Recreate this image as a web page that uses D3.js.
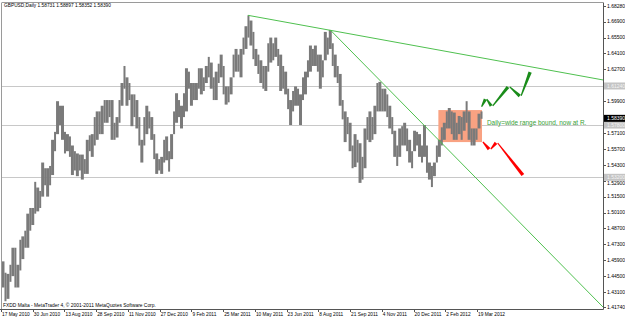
<!DOCTYPE html>
<html>
<head>
<meta charset="utf-8">
<script src="https://cdn.jsdelivr.net/npm/d3@7"></script>
<style>
  body { margin: 0; background: #fff; }
  svg { display: block; font-family: "Liberation Sans", Arial, sans-serif; }
</style>
</head>
<body>
<div id="chart"></div>
<script>
const title = "GBPUSD,Daily  1.58731 1.58897 1.58352 1.58390";
const footer = "FXDD Malta - MetaTrader 4, \u00A9 2001-2011 MetaQuotes Software Corp.";

// one row per week from 17 May 2010: [high Mon-Wed, low Mon-Wed, high Thu-Fri, low Thu-Fri]
const weekHalves = [
  [1.4580,1.4350,1.4480,1.4229],[1.4470,1.4250,1.4550,1.4400],[1.4700,1.4450,1.4700,1.4350],[1.4550,1.4350,1.4770,1.4500],
  [1.4800,1.4600,1.4850,1.4700],[1.5000,1.4700,1.5050,1.4850],[1.5050,1.4900,1.5280,1.5000],[1.5230,1.5020,1.5200,1.5050],
  [1.5450,1.5150,1.5400,1.5250],[1.5400,1.5150,1.5420,1.5250],[1.5650,1.5340,1.5720,1.5550],[1.5990,1.5700,1.5950,1.5780],
  [1.5950,1.5650,1.5720,1.5530],[1.5700,1.5550,1.5680,1.5500],[1.5600,1.5340,1.5550,1.5380],[1.5530,1.5330,1.5520,1.5380],
  [1.5520,1.5300,1.5480,1.5350],[1.5650,1.5350,1.5690,1.5550],[1.5700,1.5500,1.5850,1.5600],[1.5900,1.5650,1.5900,1.5700],
  [1.5950,1.5700,1.6000,1.5800],[1.6000,1.5800,1.6000,1.5850],[1.6000,1.5650,1.5800,1.5650],[1.5850,1.5670,1.6000,1.5800],
  [1.6150,1.5950,1.6300,1.6100],[1.6200,1.5950,1.6150,1.6000],[1.6050,1.5770,1.6050,1.5850],[1.6000,1.5750,1.5850,1.5600],
  [1.5650,1.5450,1.5850,1.5600],[1.5950,1.5700,1.5900,1.5750],[1.5850,1.5650,1.5700,1.5480],[1.5530,1.5350,1.5480,1.5380],
  [1.5500,1.5350,1.5650,1.5450],[1.5680,1.5470,1.5550,1.5370],[1.5700,1.5480,1.5900,1.5700],[1.6060,1.5800,1.6000,1.5850],
  [1.5950,1.5750,1.6060,1.5850],[1.6280,1.5900,1.6250,1.6100],[1.6150,1.5950,1.6150,1.6000],[1.6150,1.6000,1.6280,1.6100],
  [1.6280,1.6050,1.6200,1.6080],[1.6300,1.6150,1.6380,1.6200],[1.6330,1.6100,1.6200,1.6000],[1.6250,1.6000,1.6320,1.6150],
  [1.6400,1.6200,1.6300,1.6050],[1.6120,1.5960,1.6120,1.5980],[1.6200,1.6050,1.6400,1.6200],[1.6450,1.6250,1.6400,1.6250],
  [1.6450,1.6200,1.6550,1.6400],[1.6650,1.6450,1.6746,1.6550],[1.6700,1.6480,1.6600,1.6360],[1.6450,1.6300,1.6400,1.6230],
  [1.6350,1.6150,1.6300,1.6100],[1.6300,1.6080,1.6500,1.6250],[1.6550,1.6330,1.6500,1.6350],[1.6550,1.6380,1.6450,1.6300],
  [1.6400,1.6080,1.6300,1.6100],[1.6250,1.6050,1.6100,1.5920],[1.6000,1.5780,1.6080,1.5900],[1.6120,1.5950,1.6100,1.5950],
  [1.6050,1.5780,1.6200,1.6000],[1.6250,1.6050,1.6350,1.6200],[1.6480,1.6250,1.6450,1.6300],[1.6480,1.6300,1.6400,1.6250],
  [1.6400,1.6100,1.6350,1.6200],[1.6600,1.6350,1.6550,1.6400],[1.6617,1.6450,1.6500,1.6300],[1.6400,1.6200,1.6300,1.6150],
  [1.6230,1.5950,1.6000,1.5830],[1.5900,1.5630,1.5850,1.5700],[1.5800,1.5550,1.5600,1.5400],[1.5700,1.5410,1.5650,1.5450],
  [1.5620,1.5271,1.5500,1.5300],[1.5750,1.5400,1.5850,1.5650],[1.5900,1.5630,1.5850,1.5650],[1.5950,1.5700,1.6150,1.5900],
  [1.6160,1.5900,1.6100,1.5900],[1.6100,1.5900,1.6050,1.5850],[1.5950,1.5750,1.5850,1.5700],[1.5730,1.5500,1.5600,1.5420],
  [1.5750,1.5500,1.5770,1.5600],[1.5800,1.5600,1.5750,1.5550],[1.5650,1.5450,1.5550,1.5400],[1.5730,1.5550,1.5720,1.5600],
  [1.5700,1.5500,1.5600,1.5450],[1.5780,1.5500,1.5600,1.5360],[1.5450,1.5300,1.5420,1.5234],[1.5450,1.5330,1.5600,1.5450],
  [1.5650,1.5500,1.5760,1.5600],[1.5800,1.5650,1.5900,1.5750],[1.5930,1.5750,1.5900,1.5700],[1.5890,1.5650,1.5800,1.5650],
  [1.5860,1.5700,1.5850,1.5650],[1.5900,1.5730,1.5990,1.5800],[1.5900,1.5650,1.5750,1.5600],[1.5750,1.5600,1.5750,1.5650],
  [1.5880,1.5750,1.5900,1.5835]
];

// time scale labels, one every 32 daily bars
const dateLabels = ["17 May 2010","30 Jun 2010","13 Aug 2010","28 Sep 2010","11 Nov 2010","27 Dec 2010",
  "9 Feb 2011","25 Mar 2011","10 May 2011","23 Jun 2011","8 Aug 2011","21 Sep 2011","4 Nov 2011",
  "20 Dec 2011","2 Feb 2012","19 Mar 2012"];
const dateStep = 32;

const priceTicks = [1.68280,1.66900,1.65500,1.64100,1.62700,1.61300,1.59900,1.58500,1.57100,1.55700,
  1.54300,1.52900,1.51500,1.50100,1.48700,1.47300,1.45900,1.44500,1.43100,1.41740];

const levelLines = [1.61240, 1.57800, 1.53200];
const lastPrice = 1.58390;

// range box: bar indices and prices
const boxBars = [440, 484];
const boxPrices = [1.5630, 1.5912];

// trendlines as [barIndex, price] pairs
const trendLines = [
  [[248, 1.6746], [606, 1.6177]],
  [[331, 1.6617], [606, 1.4178]]
];

// projected paths [barIndex, price]
const bullPath = [[483,1.5930],[488,1.6018],[494,1.5939],[511,1.6124],[523,1.6027],[533,1.6256]];
const bearPath = [[484,1.5640],[492,1.5560],[499,1.5631],[526,1.5331]];

const note = "Daily=wide range bound, now at R.";

const W = 625, H = 318;
const plot = { left: 2, top: 3, right: 603, bottom: 309 };

const svg = d3.select("#chart").append("svg")
  .attr("width", W).attr("height", H);

svg.append("rect").attr("width", W).attr("height", H).attr("fill", "#fff");

const x = d3.scaleLinear().domain([0, 606]).range([plot.left, plot.right]);
const y = d3.scaleLinear().domain([1.41607, 1.68544]).range([plot.bottom, plot.top]);

// horizontal levels
svg.append("g").selectAll("line").data(levelLines).enter().append("line")
  .attr("x1", plot.left).attr("x2", plot.right)
  .attr("y1", d => Math.round(y(d)) + 0.5).attr("y2", d => Math.round(y(d)) + 0.5)
  .attr("stroke", "#c8c8c8").attr("stroke-width", 1);

// range box
svg.append("rect")
  .attr("x", x(boxBars[0])).attr("y", y(boxPrices[1]))
  .attr("width", x(boxBars[1]) - x(boxBars[0]))
  .attr("height", y(boxPrices[0]) - y(boxPrices[1]))
  .attr("fill", "#f9a282");

// price bars, half-week ranges
const halves = [];
weekHalves.forEach((w, i) => {
  halves.push({ start: i * 5, n: 3, hi: w[0], lo: w[1] });
  halves.push({ start: i * 5 + 3, n: 2, hi: w[2], lo: w[3] });
});
svg.append("g").selectAll("rect").data(halves).enter().append("rect")
  .attr("x", d => x(d.start) - 0.5)
  .attr("width", d => x(d.start + d.n - 1) - x(d.start) + 1)
  .attr("y", d => y(d.hi))
  .attr("height", d => y(d.lo) - y(d.hi))
  .attr("fill", "#7a7a7a");

// trendlines
svg.append("g").selectAll("line").data(trendLines).enter().append("line")
  .attr("x1", d => x(d[0][0])).attr("y1", d => y(d[0][1]))
  .attr("x2", d => x(d[1][0])).attr("y2", d => y(d[1][1]))
  .attr("stroke", "#4fc04f").attr("stroke-width", 1);

// tapered zigzag strokes
function zigzag(path, color) {
  const g = svg.append("g");
  for (let i = 0; i < path.length - 1; i++) {
    const x1 = x(path[i][0]), y1 = y(path[i][1]);
    const x2 = x(path[i + 1][0]), y2 = y(path[i + 1][1]);
    const len = Math.hypot(x2 - x1, y2 - y1);
    const ux = (x2 - x1) / len, uy = (y2 - y1) / len;
    const gap = 1.3;
    const ax = x1 + ux * gap, ay = y1 + uy * gap;
    const bx = x2 - ux * gap, by = y2 - uy * gap;
    const nx = -uy, ny = ux;
    const w0 = 0.6, w1 = 1.7;
    const pts = [
      [ax + nx * w0, ay + ny * w0], [bx + nx * w1, by + ny * w1],
      [bx - nx * w1, by - ny * w1], [ax - nx * w0, ay - ny * w0]
    ];
    g.append("polygon").attr("points", pts.map(p => p.join(",")).join(" ")).attr("fill", color);
  }
}
zigzag(bullPath, "#1a8c1a");
zigzag(bearPath, "#ff0000");

// note
svg.append("text")
  .attr("x", 487).attr("y", 124.5)
  .attr("font-size", 6.4).attr("fill", "#36a036")
  .text(note);

// frame
svg.append("line").attr("x1", plot.left).attr("x2", plot.right).attr("y1", 2.5).attr("y2", 2.5)
  .attr("stroke", "#9a9a9a");
svg.append("line").attr("x1", 1.5).attr("x2", 1.5).attr("y1", 2.5).attr("y2", plot.bottom)
  .attr("stroke", "#9a9a9a");
svg.append("line").attr("x1", plot.right + 0.5).attr("x2", plot.right + 0.5).attr("y1", 2.5).attr("y2", plot.bottom + 0.5)
  .attr("stroke", "#555");
svg.append("line").attr("x1", 0).attr("x2", plot.right + 0.5).attr("y1", plot.bottom + 0.5).attr("y2", plot.bottom + 0.5)
  .attr("stroke", "#555");

// price scale; labels hidden under a tag are dropped, close ones nudged clear of it
const boxed = levelLines.concat([lastPrice]);
const ticks = priceTicks.filter(p => boxed.every(b => Math.abs(y(b) - y(p)) > 3));
function labelY(p) {
  let ty = y(p);
  boxed.forEach(b => {
    const d = ty - y(b);
    if (Math.abs(d) < 6.2) ty = y(b) + (d > 0 ? 6.2 : -6.2);
  });
  return ty;
}
const pt = svg.append("g");
pt.selectAll("line").data(ticks).enter().append("line")
  .attr("x1", plot.right).attr("x2", plot.right + 3)
  .attr("y1", d => Math.round(y(d)) + 0.5).attr("y2", d => Math.round(y(d)) + 0.5)
  .attr("stroke", "#555");
pt.selectAll("text").data(ticks).enter().append("text")
  .attr("x", 607).attr("y", d => labelY(d)).attr("dy", "0.35em")
  .attr("font-size", 5).attr("fill", "#000")
  .text(d => d.toFixed(5));

function priceTag(p, bg, fg) {
  svg.append("rect").attr("x", plot.right + 1).attr("y", y(p) - 3.5).attr("width", W - plot.right - 1).attr("height", 7)
    .attr("fill", bg);
  svg.append("text").attr("x", 607).attr("y", y(p)).attr("dy", "0.35em")
    .attr("font-size", 5).attr("fill", fg).text(p.toFixed(5));
}
levelLines.forEach(p => priceTag(p, "#c4c4c4", "#f4f4f4"));
priceTag(lastPrice, "#000", "#fff");

// time scale
const tg = svg.append("g");
tg.selectAll("line").data(dateLabels).enter().append("line")
  .attr("x1", (d, i) => Math.round(x(i * dateStep)) - 0.5).attr("x2", (d, i) => Math.round(x(i * dateStep)) - 0.5)
  .attr("y1", plot.bottom).attr("y2", plot.bottom + 3)
  .attr("stroke", "#555");
tg.selectAll("text").data(dateLabels).enter().append("text")
  .attr("x", (d, i) => x(i * dateStep)).attr("y", 315.8)
  .attr("font-size", 4.8).attr("fill", "#000")
  .text(d => d);

// title & footer
svg.append("text").attr("x", 4).attr("y", 7.3).attr("font-size", 4.8).attr("fill", "#000").text(title);
svg.append("text").attr("x", 3).attr("y", 306.8).attr("font-size", 4.9).attr("fill", "#000").text(footer);
</script>
</body>
</html>
